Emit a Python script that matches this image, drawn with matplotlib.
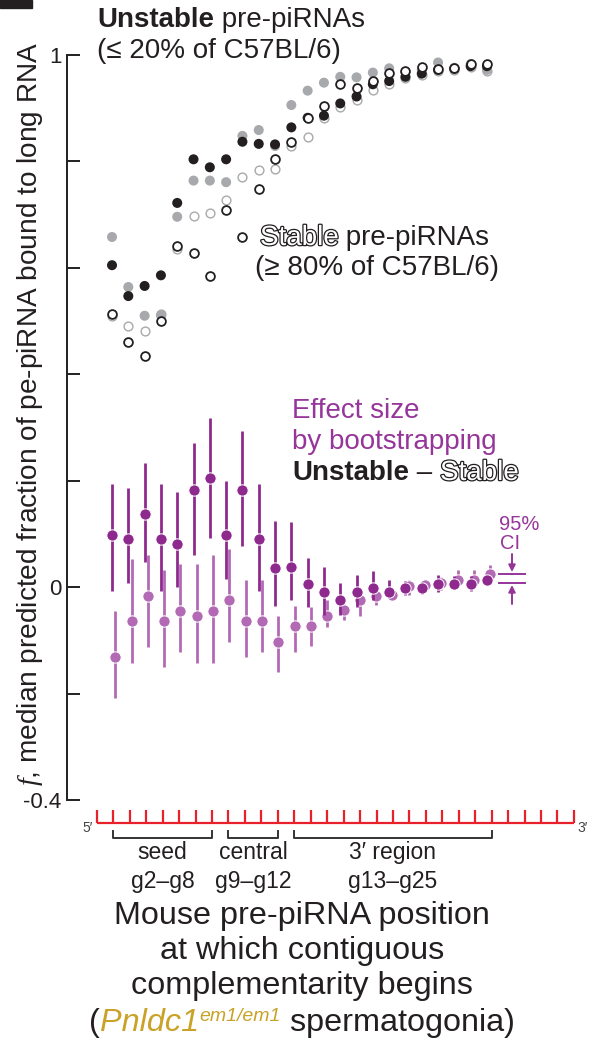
import matplotlib
matplotlib.use('Agg')
import matplotlib.pyplot as plt
import numpy as np
from matplotlib import patheffects as pe
from matplotlib.patches import Rectangle

W, H = 599, 1047
plt.rcParams['font.family'] = ['Liberation Sans', 'DejaVu Sans']
plt.rcParams['mathtext.fontset'] = 'custom'
plt.rcParams['mathtext.it'] = 'Liberation Serif:italic'
plt.rcParams['mathtext.rm'] = 'Liberation Sans'

# ---------------- data ----------------
positions = list(range(2, 26))  # g2 .. g25
unstable_black = [0.605, 0.547, 0.566, 0.586, 0.722, 0.804, 0.789, 0.804, 0.837, 0.833, 0.832, 0.864,
                  0.882, 0.886, 0.909, 0.922, 0.945, 0.951, 0.959, 0.965, 0.972, 0.974, 0.979, 0.979]
unstable_gray = [0.658, 0.564, 0.510, 0.511, 0.696, 0.764, 0.764, 0.761, 0.848, 0.859, 0.829, 0.906,
                 0.933, 0.948, 0.959, 0.958, 0.967, 0.975, 0.968, 0.972, 0.986, 0.976, 0.983, 0.972]
stable_gray = [0.509, 0.491, 0.481, 0.513, 0.635, 0.697, 0.704, 0.727, 0.771, 0.784, 0.786, 0.829,
               0.845, 0.882, 0.902, 0.915, 0.934, 0.946, 0.957, 0.962, 0.970, 0.972, 0.977, 0.969]
stable_black = [0.513, 0.461, 0.435, 0.500, 0.641, 0.627, 0.585, 0.708, 0.658, 0.749, 0.804, 0.837,
                0.881, 0.905, 0.945, 0.938, 0.952, 0.967, 0.969, 0.978, 0.973, 0.976, 0.983, 0.983]

effect_dark = [0.098, 0.090, 0.137, 0.090, 0.082, 0.183, 0.206, 0.098, 0.183, 0.090, 0.036, 0.037,
               0.006, -0.009, -0.024, -0.009, -0.002, -0.009, -0.002, -0.002, 0.006, 0.006, 0.006, 0.013]
effect_dark_lo = [-0.008, 0.008, 0.048, -0.008, 0.001, 0.061, 0.093, 0.015, 0.078, -0.008, -0.035, -0.024,
                  -0.037, -0.053, -0.053, -0.037, -0.024, -0.018, -0.014, -0.012, -0.009, -0.004, -0.007, 0.004]
effect_dark_hi = [0.193, 0.186, 0.233, 0.193, 0.178, 0.270, 0.317, 0.200, 0.294, 0.193, 0.124, 0.123,
                  0.054, 0.038, 0.007, 0.023, 0.031, 0.014, 0.012, 0.010, 0.023, 0.021, 0.021, 0.023]

effect_light = [-0.132, -0.064, -0.016, -0.064, -0.045, -0.055, -0.045, -0.025, -0.064, -0.064, -0.103, -0.073,
                -0.073, -0.055, -0.043, -0.024, -0.016, -0.015, 0.002, 0.004, 0.007, 0.014, 0.014, 0.024]
effect_light_lo = [-0.208, -0.142, -0.112, -0.151, -0.122, -0.142, -0.142, -0.103, -0.132, -0.122, -0.160, -0.122,
                   -0.111, -0.075, -0.062, -0.054, -0.034, -0.024, -0.015, -0.009, -0.006, 0.004, 0.004, 0.013]
effect_light_hi = [-0.045, 0.052, 0.061, 0.032, 0.043, 0.043, 0.061, 0.071, 0.013, 0.013, -0.055, -0.035,
                   -0.037, -0.024, -0.031, -0.006, -0.002, -0.002, 0.014, 0.013, 0.019, 0.032, 0.032, 0.041]

yticks = [-0.4, -0.2, 0.0, 0.2, 0.4, 0.6, 0.8, 1.0]
ytick_labels = ['-0.4', '', '0', '', '', '', '', '1']

ruler_positions = list(range(1, 31))
regions = [('seed', 'g2\u2013g8', 2, 8), ('central', 'g9\u2013g12', 9, 12), ('3\u2032 region', 'g13\u2013g25', 13, 25)]

# ---------------- colours ----------------
BLACK = '#231F20'
GRAY = '#A7A9AC'
PURPLE = '#8E2A8E'
LPURPLE = '#B36AB5'
PTEXT = '#96359A'
GOLD = '#C9A227'
RED = '#E8202A'

fig = plt.figure(figsize=(W / 100, H / 100), dpi=100)

# ---------------- main axes ----------------
ax = fig.add_axes([67 / W, 1 - 800 / H, 493 / W, 745 / H])
ax.set_xlim(-0.761, 29.48)
ax.set_ylim(-0.4, 1.0)
for s in ['top', 'right', 'bottom']:
    ax.spines[s].set_visible(False)
ax.spines['left'].set_linewidth(1.4)
ax.spines['left'].set_color(BLACK)
ax.set_xticks([])
ax.set_yticks(yticks)
ax.set_yticklabels(ytick_labels)
ax.tick_params(axis='y', direction='in', length=9.5, width=1.4, pad=4, labelsize=16, colors=BLACK)
ax.patch.set_alpha(0)

x = np.array(positions, dtype=float)
ax.scatter(x, stable_gray, s=40, facecolor='white', edgecolor=GRAY, linewidth=1.0, zorder=2, clip_on=False)
ax.scatter(x, unstable_gray, s=52, facecolor=GRAY, edgecolor='none', zorder=3, clip_on=False)
ax.scatter(x, unstable_black, s=52, facecolor=BLACK, edgecolor='none', zorder=4, clip_on=False)
ax.scatter(x, stable_black, s=40, facecolor='white', edgecolor=BLACK, linewidth=1.3, zorder=5, clip_on=False)

xl = x + 0.2
ax.vlines(xl, effect_light_lo, effect_light_hi, color=LPURPLE, lw=2.0, zorder=2)
ax.scatter(xl, effect_light, s=66, facecolor=LPURPLE, edgecolor='white', linewidth=0.7, zorder=3)
ax.vlines(x, effect_dark_lo, effect_dark_hi, color=PURPLE, lw=2.0, zorder=4)
ax.scatter(x, effect_dark, s=66, facecolor=PURPLE, edgecolor='white', linewidth=0.7, zorder=5)

# y label
fig.text(30 / W, 1 - 414 / H, r'$f$, median predicted fraction of pe-piRNA bound to long RNA',
         rotation=90, ha='center', va='center', fontsize=20.2, color=BLACK)

# ---------------- text helper ----------------
renderer = fig.canvas.get_renderer()


def chain(pieces, x0, y0, ha='left'):
    arts = []
    cur = x0
    for s, kw in pieces:
        kw = dict(kw)
        dy = kw.pop('dy', 0)
        t = fig.text(cur / W, 1 - (y0 - dy) / H, s, ha='left', va='baseline', **kw)
        w = t.get_window_extent(renderer).width
        arts.append((t, cur))
        cur += w
    if ha == 'center':
        shift = (cur - x0) / 2
        for t, c in arts:
            t.set_x((c - shift) / W)
    return arts


outline = dict(color='white', path_effects=[pe.withStroke(linewidth=1.8, foreground=BLACK)])
FS = 20

chain([('Unstable', dict(fontsize=FS, weight='bold', color=BLACK)),
       (' pre-piRNAs', dict(fontsize=FS, color=BLACK))], 97, 27)
chain([('(\u2264 20% of C57BL/6)', dict(fontsize=FS, color=BLACK))], 97, 58)

chain([('Stable', dict(fontsize=FS, **outline)),
       (' pre-piRNAs', dict(fontsize=FS, color=BLACK))], 260, 245)
chain([('(\u2265 80% of C57BL/6)', dict(fontsize=FS, color=BLACK))], 255, 275)

chain([('Effect size', dict(fontsize=FS, color=PTEXT))], 292, 418)
chain([('by bootstrapping', dict(fontsize=FS, color=PTEXT))], 292, 449)
chain([('Unstable', dict(fontsize=FS, weight='bold', color=BLACK)),
       (' \u2013 ', dict(fontsize=FS, color=BLACK)),
       ('Stable', dict(fontsize=FS, **outline))], 292, 480)

chain([('95%', dict(fontsize=14.5, color=PTEXT))], 499, 530)
chain([('CI', dict(fontsize=14.5, color=PTEXT))], 500, 549)

# ---------------- overlay (pixel coords) ----------------
ov = fig.add_axes([0, 0, 1, 1], zorder=-1)
ov.set_xlim(0, W)
ov.set_ylim(H, 0)
ov.axis('off')
ov.add_patch(Rectangle((0, 0), 32, 8, color=BLACK))
# CI glyph
ov.plot([499, 525], [574, 574], color=PTEXT, lw=1.4)
ov.plot([499, 525], [583, 583], color=PTEXT, lw=1.4)
ov.annotate('', xy=(512, 572), xytext=(512, 554),
            arrowprops=dict(arrowstyle='-|>', color=PTEXT, lw=1.4, mutation_scale=10, shrinkA=0, shrinkB=0))
ov.annotate('', xy=(512, 585), xytext=(512, 604),
            arrowprops=dict(arrowstyle='-|>', color=PTEXT, lw=1.4, mutation_scale=10, shrinkA=0, shrinkB=0))

# ---------------- ruler axes ----------------
ar = fig.add_axes([80 / W, 1 - 900 / H, 510 / W, 100 / H])
ar.set_xlim(-0.027, 30.98)
ar.set_ylim(900, 800)
ar.axis('off')
rp = np.array(ruler_positions, dtype=float)
ar.plot([rp[0], rp[-1]], [822.5, 822.5], color=RED, lw=1.6, solid_capstyle='butt')
ar.vlines(rp, 810, 822.5, color=RED, lw=1.6)
ar.text(rp[0] - 0.25, 832, '5\u2032', fontsize=10, color='#444444', ha='right', va='baseline')
ar.text(rp[-1] + 0.2, 832, '3\u2032', fontsize=10, color='#444444', ha='left', va='baseline')
for name, rng, a, b in regions:
    ar.plot([a, a, b, b], [831, 838, 838, 831], color='#333333', lw=1.4)
    xc = (a + b) / 2
    ar.text(xc, 859, name, fontsize=16.5, ha='center', va='baseline', color=BLACK)
    ar.text(xc, 888, rng, fontsize=16.5, ha='center', va='baseline', color=BLACK)

# ---------------- x label ----------------
XFS = 23.3
chain([('Mouse pre-piRNA position', dict(fontsize=XFS, color=BLACK))], 302, 924, ha='center')
chain([('at which contiguous', dict(fontsize=XFS, color=BLACK))], 302, 959, ha='center')
chain([('complementarity begins', dict(fontsize=XFS, color=BLACK))], 302, 994, ha='center')
chain([('(', dict(fontsize=XFS, color=BLACK)),
       ('Pnldc1', dict(fontsize=XFS, color=GOLD, style='italic')),
       ('em1/em1', dict(fontsize=14, color=GOLD, style='italic', dy=10)),
       (' spermatogonia)', dict(fontsize=XFS, color=BLACK))], 302, 1031, ha='center')

fig.savefig('out.png', dpi=100)
